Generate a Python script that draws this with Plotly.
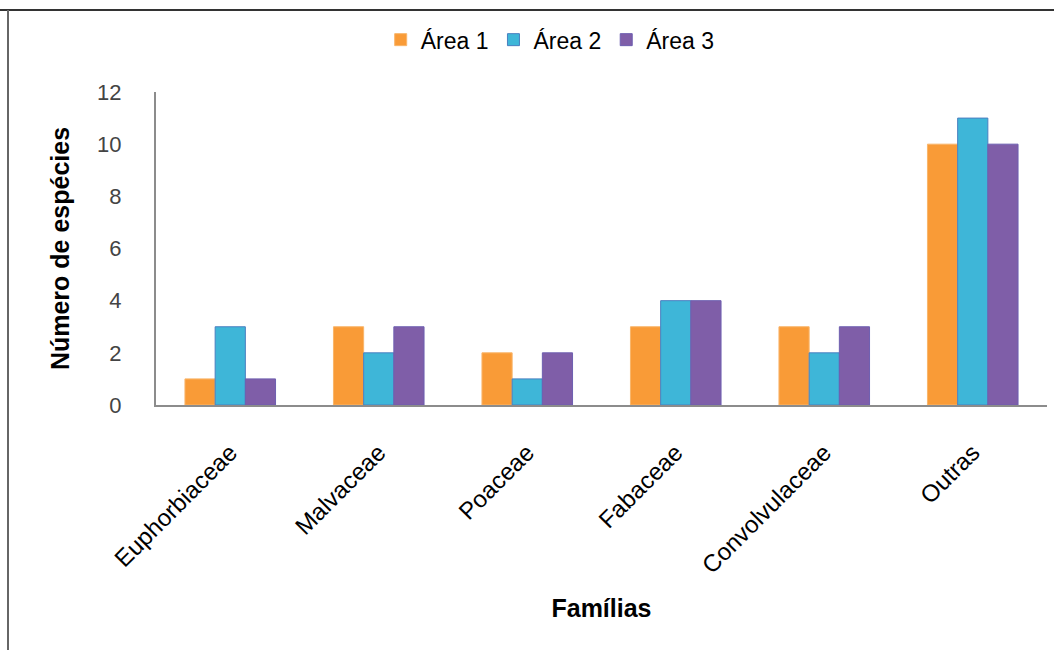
import plotly.graph_objects as go

familias = ["Euphorbiaceae", "Malvaceae", "Poaceae", "Fabaceae", "Convolvulaceae", "Outras"]
area1 = [1, 3, 2, 3, 3, 10]
area2 = [3, 2, 1, 4, 2, 11]
area3 = [1, 3, 2, 4, 3, 10]
series_names = ["Área 1", "Área 2", "Área 3"]
y_ticks = [0, 2, 4, 6, 8, 10, 12]

fills = ["#F99B37", "#3EB6D8", "#7F5EA8"]
edges = ["#F9B56A", "#4A7FC0", "#6E5FB0"]

fig = go.Figure()
for name, vals, fc, ec in zip(series_names, [area1, area2, area3], fills, edges):
    fig.add_trace(go.Bar(x=familias, y=vals, name=name,
                         marker=dict(color=fc, line=dict(color=ec, width=1))))

fig.update_layout(
    width=1054, height=650,
    paper_bgcolor="white", plot_bgcolor="white",
    margin=dict(l=156, r=7, t=92, b=245),
    barmode="group", bargap=0.39, bargroupgap=0,
    font=dict(family="Liberation Sans, Arial, sans-serif", size=22, color="#000"),
    legend=dict(orientation="h", x=0.522, xanchor="center", xref="container",
                y=0.972, yanchor="top", yref="container",
                font=dict(size=23, color="#000"),
                bgcolor="rgba(0,0,0,0)", itemwidth=30, tracegroupgap=0),
    xaxis=dict(showline=True, linecolor="#8C8C8C", linewidth=2, showgrid=False,
               tickangle=-45, ticks="", tickfont=dict(size=24, color="#000"),
               ticklabelstandoff=22,
               title=dict(text="<b>Famílias</b>", font=dict(size=25, color="#000"), standoff=22)),
    yaxis=dict(range=[0, 12], tickvals=y_ticks, showline=True, linecolor="#8C8C8C", linewidth=2,
               showgrid=False, zeroline=False, ticks="", tickfont=dict(size=22, color="#444"),
               ticklabelstandoff=28,
               title=dict(text="<b>Número de espécies</b>", font=dict(size=25, color="#000"), standoff=20)),
)

# outer frame lines
fig.add_shape(type="line", xref="paper", yref="paper", x0=-156/891, x1=1.0 + 7/891, y0=1 + 82/313, y1=1 + 82/313,
              line=dict(color="#333", width=2))
fig.add_shape(type="line", xref="paper", yref="paper", x0=-148/891, x1=-148/891, y0=1 + 82/313, y1=-245/313,
              line=dict(color="#666", width=2))

fig.write_html("out.html")
